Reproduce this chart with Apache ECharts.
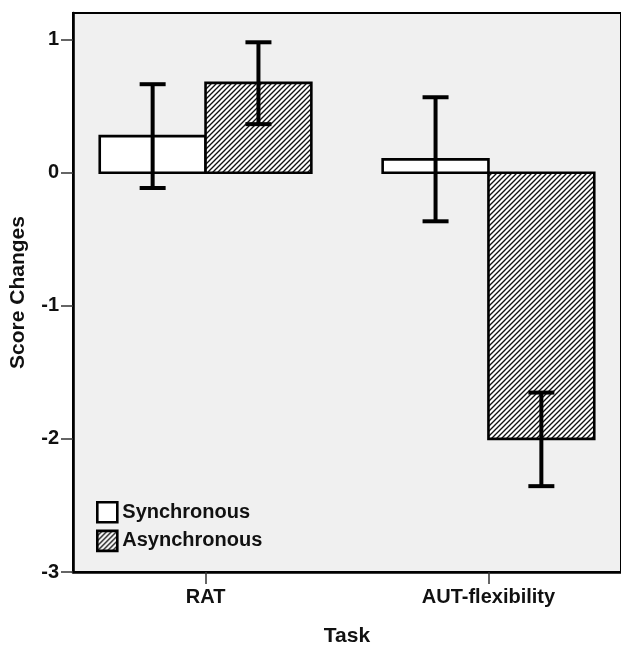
<!DOCTYPE html>
<html>
<head>
<meta charset="utf-8">
<script src="https://cdn.jsdelivr.net/npm/echarts@6/dist/echarts.min.js"></script>
<style>
html,body{margin:0;padding:0;background:#fff;}
#chart{width:621px;height:652px;}
</style>
</head>
<body>
<div id="chart"></div>
<script>
// ---- data ----
const categories = ['RAT', 'AUT-flexibility'];
const seriesNames = ['Synchronous', 'Asynchronous'];
const syncMean = [0.275, 0.10];
const syncLow = [-0.115, -0.365];
const syncHigh = [0.665, 0.567];
const asyncMean = [0.675, -2.00];
const asyncLow = [0.365, -2.355];
const asyncHigh = [0.98, -1.652];
const yTicks = [-3, -2, -1, 0, 1];

// ---- hatch pattern ----
function makeHatch() {
  const p = 5;
  const c = document.createElement('canvas');
  c.width = p; c.height = p;
  const g = c.getContext('2d');
  g.fillStyle = '#ffffff';
  g.fillRect(0, 0, p, p);
  g.strokeStyle = '#111111';
  g.lineWidth = 1.35;
  g.beginPath();
  g.moveTo(-1, p + 1); g.lineTo(p + 1, -1);
  g.moveTo(-1, 1); g.lineTo(1, -1);
  g.moveTo(p - 1, p + 1); g.lineTo(p + 1, p - 1);
  g.stroke();
  return c;
}
const hatch = { image: makeHatch(), repeat: 'repeat' };

const BAR_W = 0.374;   // bar width in category units
const CAP_PX = 13;     // half width of error caps in pixels
const FONT = "'Liberation Sans', Arial, sans-serif";

function barRender(offsetStart, fill) {
  return function (params, api) {
    const c = api.value(0), v = api.value(1);
    const a = api.coord([c + offsetStart, 0]);
    const b = api.coord([c + offsetStart + BAR_W, v]);
    return {
      type: 'rect',
      shape: {
        x: Math.min(a[0], b[0]), y: Math.min(a[1], b[1]),
        width: Math.abs(b[0] - a[0]), height: Math.abs(b[1] - a[1])
      },
      style: { fill: fill, stroke: '#000', lineWidth: 2.6 }
    };
  };
}

function errRender(offsetCenter) {
  return function (params, api) {
    const c = api.value(0);
    const lo = api.coord([c + offsetCenter, api.value(1)]);
    const hi = api.coord([c + offsetCenter, api.value(2)]);
    const st = { stroke: '#000', lineWidth: 4 };
    return {
      type: 'group',
      children: [
        { type: 'line', shape: { x1: lo[0], y1: lo[1], x2: hi[0], y2: hi[1] }, style: st },
        { type: 'line', shape: { x1: lo[0] - CAP_PX, y1: lo[1], x2: lo[0] + CAP_PX, y2: lo[1] }, style: st },
        { type: 'line', shape: { x1: hi[0] - CAP_PX, y1: hi[1], x2: hi[0] + CAP_PX, y2: hi[1] }, style: st }
      ]
    };
  };
}

const idx = categories.map((_, i) => i);

const chart = echarts.init(document.getElementById('chart'), null, { renderer: 'canvas' });
chart.setOption({
  animation: false,
  backgroundColor: '#ffffff',
  textStyle: { fontFamily: FONT },
  grid: {
    left: 70, right: -3, top: 13, bottom: 77,
    show: true, backgroundColor: '#f0f0f0', borderColor: '#000', borderWidth: 2
  },
  legend: {
    orient: 'vertical', left: 91, top: 496,
    itemWidth: 20, itemHeight: 20, itemGap: 6,
    textStyle: { fontFamily: FONT, fontSize: 20, fontWeight: 'bold', color: '#111' },
    data: [
      { name: seriesNames[0], icon: 'rect', itemStyle: { color: '#fff', borderColor: '#000', borderWidth: 2.6 } },
      { name: seriesNames[1], icon: 'rect', itemStyle: { color: hatch, borderColor: '#000', borderWidth: 2.6 } }
    ]
  },
  xAxis: {
    type: 'value', min: -0.4685, max: 1.4685,
    name: 'Task', nameLocation: 'middle', nameGap: 54,
    nameTextStyle: { fontFamily: FONT, fontSize: 21, fontWeight: 'bold', color: '#111' },
    axisLine: { show: true, onZero: false, lineStyle: { color: '#000', width: 2.6 } },
    axisTick: { show: true, length: 12, customValues: idx, lineStyle: { color: '#333', width: 1.5 } },
    axisLabel: {
      customValues: idx, margin: 15,
      fontFamily: FONT, fontSize: 20, fontWeight: 'bold', color: '#111',
      formatter: v => categories[Math.round(v)]
    },
    splitLine: { show: false }
  },
  yAxis: {
    type: 'value', min: -3, max: 1.2,
    name: 'Score Changes', nameLocation: 'middle', nameGap: 44,
    nameTextStyle: { fontFamily: FONT, fontSize: 21, fontWeight: 'bold', color: '#111' },
    axisLine: { show: true, onZero: false, lineStyle: { color: '#000', width: 2.6 } },
    axisTick: { show: true, length: 12, customValues: yTicks, lineStyle: { color: '#333', width: 1.5 } },
    axisLabel: {
      customValues: yTicks, margin: 14,
      fontFamily: FONT, fontSize: 20, fontWeight: 'bold', color: '#111',
      formatter: v => String(v)
    },
    splitLine: { show: false }
  },
  series: [
    {
      name: seriesNames[0], type: 'custom', z: 2,
      itemStyle: { color: '#fff' },
      renderItem: barRender(-BAR_W, '#fff'),
      data: idx.map(i => [i, syncMean[i]])
    },
    {
      name: seriesNames[1], type: 'custom', z: 2,
      itemStyle: { color: hatch },
      renderItem: barRender(0, hatch),
      data: idx.map(i => [i, asyncMean[i]])
    },
    {
      type: 'custom', z: 3,
      renderItem: errRender(-BAR_W / 2),
      data: idx.map(i => [i, syncLow[i], syncHigh[i]])
    },
    {
      type: 'custom', z: 3,
      renderItem: errRender(BAR_W / 2),
      data: idx.map(i => [i, asyncLow[i], asyncHigh[i]])
    }
  ]
});
</script>
</body>
</html>
